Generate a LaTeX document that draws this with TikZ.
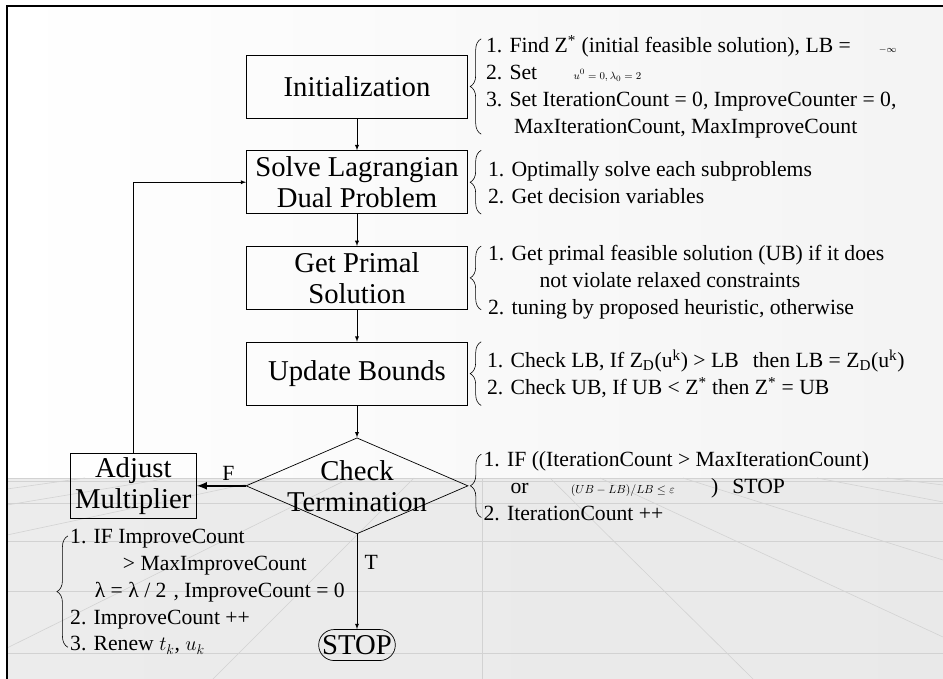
\documentclass[tikz,border=0pt]{standalone}
\usepackage{fontspec}
\setmainfont{Liberation Serif}
\usetikzlibrary{positioning, shapes.geometric, shapes.misc, arrows, decorations.pathreplacing}

\newcommand{\boxtxt}{\fontsize{24.5}{26.5}\selectfont}
\newcommand{\notetxt}{\fontsize{18.5}{23}\selectfont}
\newcommand{\eqtxt}{\fontsize{9.5}{9.5}\selectfont}

\begin{document}
\begin{tikzpicture}[x=0.03cm, y=-0.03cm,
node distance = 0.96cm and 1.47cm,
    box/.style = {rectangle, draw, line width=0.6pt,
        minimum width=6.63cm, minimum height=1.89cm, align=center, font=\boxtxt},
    cond/.style = {diamond, draw, line width=0.6pt,
        minimum width=6.66cm, minimum height=2.88cm, inner sep=0pt},
    term/.style = {rounded rectangle, draw, line width=0.6pt,
        minimum width=2.37cm, minimum height=0.93cm, inner sep=1pt, font=\boxtxt},
    msg/.style = {-latex, line width=0.6pt},
    fmsg/.style = {-latex, line width=2pt},
    msglabel/.style = {font=\notetxt},
    note/.style = {align=left, font=\notetxt, inner sep=0pt},
    brc/.style = {decorate, decoration={brace, amplitude=0.33cm}, line width=0.5pt},
    floorline/.style = {draw=gray!35, line width=0.5pt},
]

% slide background
\useasboundingbox (0,0) rectangle (943,679);
\shade[left color=white, right color=gray!9] (7,6) rectangle (943,478);
\shade[left color=gray!15, middle color=gray!3, right color=gray!17] (7,478) rectangle (943,679);
\foreach \y in {478,481,503,541,591,653}
    \draw[floorline] (7,\y) -- (943,\y);
\foreach \xa/\xb/\yb in {550/753/679, 600/943/637, 683/943/560, 817/943/502, 887/943/485, 482/482/679,
                         414/213/679, 350/7/648, 275/7/535, 170/7/505, 85/7/489}
    \draw[floorline] (\xa,478) -- (\xb,\yb);
\draw[line width=1.6pt] (7,679) -- (7,6) -- (943,6);

% flow
\node[box] (init) at (357,86.5) {Initialization};
\node[box, below=of init] (solve) {Solve Lagrangian\\Dual Problem};
\node[box, below=of solve] (primal) {Get Primal\\Solution};
\node[box, below=of primal] (update) {Update Bounds};
\node[cond, below=of update] (check) {};
\node[font=\boxtxt, align=center] (checktxt) at (check) {Check\\Termination};
\node[box, minimum width=3.78cm, left=of check] (adjust) {Adjust\\Multiplier};
\node[term, below=2.85cm of check] (stop) {STOP};

\draw[msg] (init) -- (solve);
\draw[msg] (solve) -- (primal);
\draw[msg] (primal) -- (update);
\draw[msg] (update) -- (check);
\draw[fmsg] (check.west) -- node[msglabel, above, pos=0.35] {F} (adjust.east);
\draw[msg] (check.south) -- node[msglabel, right, pos=0.3, xshift=0.1cm] {T} (stop.north);
\draw[msg] (adjust.north) |- (solve.west);

% notes
\node[note, right=0.54cm of init] (initnote) {1. Find Z\textsuperscript{*} (initial feasible solution), LB =\hspace{24pt}{\fontsize{8}{8}\selectfont$-\infty$}\\
2. Set\hspace{31pt}{\eqtxt$u^0=0,\lambda_0=2$}\\
3. Set IterationCount = 0, ImproveCounter = 0,\\
\hspace*{24pt}MaxIterationCount, MaxImproveCount};
\node[note, right=0.6cm of solve] (solvenote) {1. Optimally solve each subproblems\\
2. Get decision variables};
\node[note, right=0.6cm of primal, yshift=-0.13cm] (primalnote) {1. Get primal feasible solution (UB) if it does\\
\hspace*{44pt}not violate relaxed constraints\\
2. tuning by proposed heuristic, otherwise};
\node[note, right=0.57cm of update] (updatenote) {1. Check LB, If Z\textsubscript{D}(u\textsuperscript{k}) > LB\hspace{12pt}then LB = Z\textsubscript{D}(u\textsuperscript{k})\\
2. Check UB, If UB < Z\textsuperscript{*} then Z\textsuperscript{*} = UB};
\node[note, right=0.45cm of check] (checknote) {1. IF ((IterationCount > MaxIterationCount)\\
\hspace*{23pt}or\hspace{36pt}{\fontsize{10}{10}\selectfont$(UB-LB)/LB\le\varepsilon$}\hspace{31pt})\hspace{12pt}STOP\\
2. IterationCount ++};
\node[note, below right=0.3cm and 0cm of adjust.south west] (adjnote) {1. IF ImproveCount\\
\hspace*{45pt}> MaxImproveCount\\
\hspace*{21pt}λ = λ / 2\hspace{6pt}, ImproveCount = 0\\
2. ImproveCount ++\\
3. Renew $t_k$, $u_k$};

\draw[brc] ([xshift=0.4cm, yshift=-1.43cm]init.east) -- ([xshift=0.4cm, yshift=1.43cm]init.east);
\draw[brc] ([xshift=0.4cm]solve.south east) -- ([xshift=0.4cm]solve.north east);
\draw[brc] ([xshift=0.4cm]primal.south east) -- ([xshift=0.4cm]primal.north east);
\draw[brc] ([xshift=0.4cm]update.south east) -- ([xshift=0.4cm]update.north east);
\draw[brc] ([xshift=0.39cm, yshift=-0.95cm]check.east) -- ([xshift=0.39cm, yshift=0.95cm]check.east);
\draw[brc] ([xshift=-0.06cm, yshift=-1.67cm]adjnote.west) -- ([xshift=-0.06cm, yshift=1.67cm]adjnote.west);

\end{tikzpicture}
\end{document}
